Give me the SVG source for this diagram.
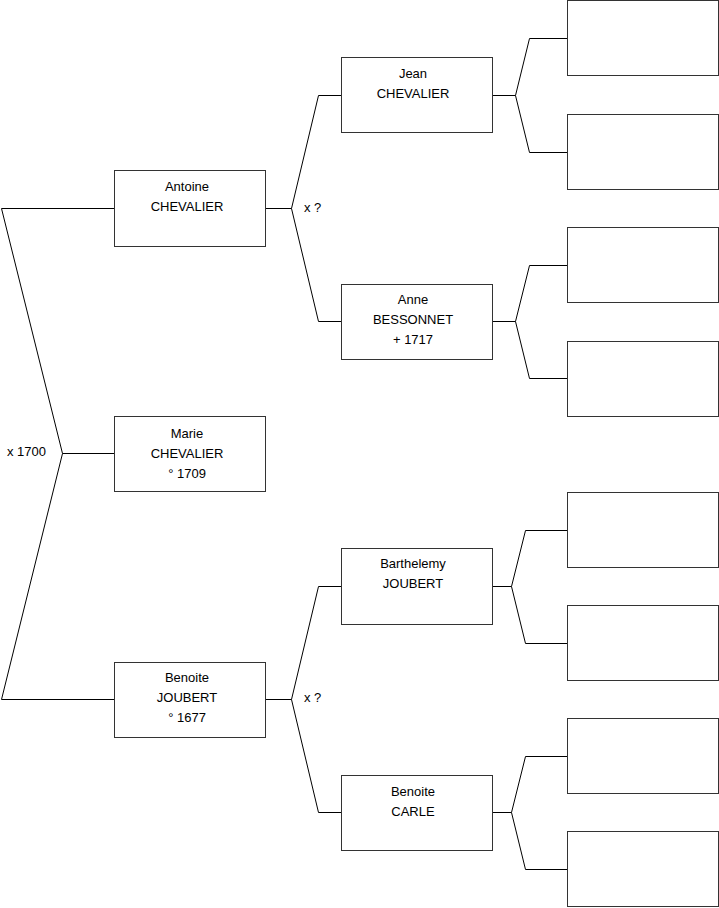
<svg xmlns="http://www.w3.org/2000/svg" width="719" height="908" viewBox="0 0 719 908">
<style>
.box{fill:#fff;stroke:#333;stroke-width:1}
.ln{fill:none;stroke:#000;stroke-width:1}
text{font-family:"Liberation Sans",Arial,sans-serif;font-size:13px;fill:#000}
.c{text-anchor:middle}
</style>
<rect width="719" height="908" fill="#fff"/>
<g id="connectors">
<polyline class="ln" points="114.5,208.5 1.5,208.5 62.5,453.5 1.5,699.5 114.5,699.5"/>
<line class="ln" x1="62.5" y1="453.5" x2="114.5" y2="453.5"/>
<polyline class="ln" points="341.5,95.5 318.5,95.5 291.5,208.5 318.5,321.5 341.5,321.5"/>
<line class="ln" x1="265.5" y1="208.5" x2="291.5" y2="208.5"/>
<polyline class="ln" points="341.5,586.5 318.5,586.5 291.5,699.5 318.5,812.5 341.5,812.5"/>
<line class="ln" x1="265.5" y1="699.5" x2="291.5" y2="699.5"/>
<polyline class="ln" points="567.5,38.5 529.5,38.5 515.5,95.5 529.5,152.5 567.5,152.5"/>
<line class="ln" x1="492.5" y1="95.5" x2="515.5" y2="95.5"/>
<polyline class="ln" points="567.5,265.5 529.5,265.5 515.5,321.5 529.5,378.5 567.5,378.5"/>
<line class="ln" x1="492.5" y1="321.5" x2="515.5" y2="321.5"/>
<polyline class="ln" points="567.5,530.5 525.5,530.5 511.5,586.5 525.5,643.5 567.5,643.5"/>
<line class="ln" x1="492.5" y1="586.5" x2="511.5" y2="586.5"/>
<polyline class="ln" points="567.5,756.5 525.5,756.5 511.5,812.5 525.5,869.5 567.5,869.5"/>
<line class="ln" x1="492.5" y1="812.5" x2="511.5" y2="812.5"/>
<text x="7" y="456">x 1700</text>
<text x="304" y="212">x ?</text>
<text x="304" y="702">x ?</text>
</g>
<g id="antoine"><rect class="box" x="114.5" y="170.5" width="151" height="76"/><text class="c" x="187" y="191">Antoine</text><text class="c" x="187" y="211">CHEVALIER</text></g>
<g id="marie"><rect class="box" x="114.5" y="416.5" width="151" height="75"/><text class="c" x="187" y="438">Marie</text><text class="c" x="187" y="458">CHEVALIER</text><text class="c" x="187" y="478">° 1709</text></g>
<g id="benoite-joubert"><rect class="box" x="114.5" y="662.5" width="151" height="75"/><text class="c" x="187" y="682">Benoite</text><text class="c" x="187" y="702">JOUBERT</text><text class="c" x="187" y="722">° 1677</text></g>
<g id="jean"><rect class="box" x="341.5" y="57.5" width="151" height="75"/><text class="c" x="413" y="78">Jean</text><text class="c" x="413" y="98">CHEVALIER</text></g>
<g id="anne"><rect class="box" x="341.5" y="284.5" width="151" height="75"/><text class="c" x="413" y="304">Anne</text><text class="c" x="413" y="324">BESSONNET</text><text class="c" x="413" y="344">+ 1717</text></g>
<g id="barthelemy"><rect class="box" x="341.5" y="548.5" width="151" height="76"/><text class="c" x="413" y="568">Barthelemy</text><text class="c" x="413" y="588">JOUBERT</text></g>
<g id="benoite-carle"><rect class="box" x="341.5" y="775.5" width="151" height="75"/><text class="c" x="413" y="796">Benoite</text><text class="c" x="413" y="816">CARLE</text></g>
<g id="p1"><rect class="box" x="567.5" y="0.5" width="151" height="75"/></g>
<g id="p2"><rect class="box" x="567.5" y="114.5" width="151" height="75"/></g>
<g id="p3"><rect class="box" x="567.5" y="227.5" width="151" height="75"/></g>
<g id="p4"><rect class="box" x="567.5" y="341.5" width="151" height="75"/></g>
<g id="p5"><rect class="box" x="567.5" y="492.5" width="151" height="75"/></g>
<g id="p6"><rect class="box" x="567.5" y="605.5" width="151" height="75"/></g>
<g id="p7"><rect class="box" x="567.5" y="718.5" width="151" height="75"/></g>
<g id="p8"><rect class="box" x="567.5" y="831.5" width="151" height="75"/></g>
</svg>
